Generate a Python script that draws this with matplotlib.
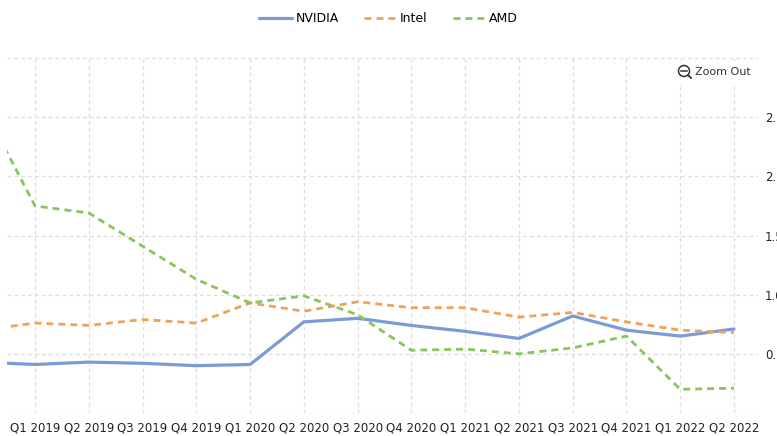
import matplotlib.pyplot as plt
from matplotlib.patches import Circle, Rectangle
from matplotlib.lines import Line2D

quarters = ["Q4 2018", "Q1 2019", "Q2 2019", "Q3 2019", "Q4 2019", "Q1 2020", "Q2 2020",
            "Q3 2020", "Q4 2020", "Q1 2021", "Q2 2021", "Q3 2021", "Q4 2021",
            "Q1 2022", "Q2 2022"]
nvidia = [0.43, 0.41, 0.43, 0.42, 0.40, 0.41, 0.77, 0.80, 0.74, 0.69, 0.63, 0.82, 0.70, 0.65, 0.71]
intel = [0.70, 0.76, 0.74, 0.79, 0.76, 0.93, 0.86, 0.94, 0.89, 0.89, 0.81, 0.85, 0.77, 0.70, 0.68]
amd = [2.62, 1.75, 1.69, 1.41, 1.13, 0.93, 0.99, 0.83, 0.53, 0.54, 0.50, 0.55, 0.65, 0.20, 0.21]
y_ticks = [0, 0.5, 1.0, 1.5, 2.0, 2.5, 3.0]
y_labels = ["", "0.5", "1.0", "1.5", "2.0", "2.5", ""]

W, H = 777, 436
fig = plt.figure(figsize=(W / 100, H / 100), dpi=100)
ax = fig.add_axes([7 / W, (H - 413) / H, (758 - 7) / W, (413 - 58) / H])

x = list(range(len(quarters)))
ax.plot(x, nvidia, color="#7b9bd8", lw=2.3, label="NVIDIA", solid_capstyle="round", zorder=3)
ax.plot(x, intel, color="#f0a15a", lw=2, dashes=(2.5, 1.8), label="Intel", zorder=3)
ax.plot(x, amd, color="#88c55a", lw=2, dashes=(2.5, 1.8), label="AMD", zorder=3)

ax.set_xlim(0.479, 14.446)
ax.set_ylim(0, 3.0)
ax.set_xticks(x[1:])
ax.set_xticklabels(quarters[1:], fontsize=8.5, color="#222222")
ax.set_yticks(y_ticks)
ax.set_yticklabels(y_labels, fontsize=8.5, color="#222222")
ax.yaxis.tick_right()
ax.tick_params(length=0)
ax.tick_params(axis="x", pad=6)
ax.tick_params(axis="y", pad=5)
for s in ax.spines.values():
    s.set_visible(False)
ax.grid(True, color="#dddddd", lw=0.9, dashes=(3, 2.5))
ax.set_axisbelow(True)

fig.legend(loc="center", bbox_to_anchor=(0.5, 1 - 19 / H), ncol=3, frameon=False,
           fontsize=9, handlelength=2.6, handletextpad=0.3, columnspacing=2.0)

# zoom out button
fig.patches.append(Rectangle((672, H - 83), 86, 22, transform=None, fc="white", ec="none", zorder=2))
fig.patches.append(Circle((684, H - 71), 5.5, transform=None, fill=False, ec="#333333", lw=1.1, zorder=3))
fig.lines.append(Line2D([681, 687], [H - 71, H - 71], transform=None, color="#333333", lw=1.1, zorder=3))
fig.lines.append(Line2D([688, 691], [H - 75, H - 78], transform=None, color="#333333", lw=1.3, zorder=3))
fig.text(695 / W, 1 - 72 / H, "Zoom Out", fontsize=8, color="#333333", va="center",
         ha="left", zorder=4)

fig.savefig("out.png", dpi=100)
